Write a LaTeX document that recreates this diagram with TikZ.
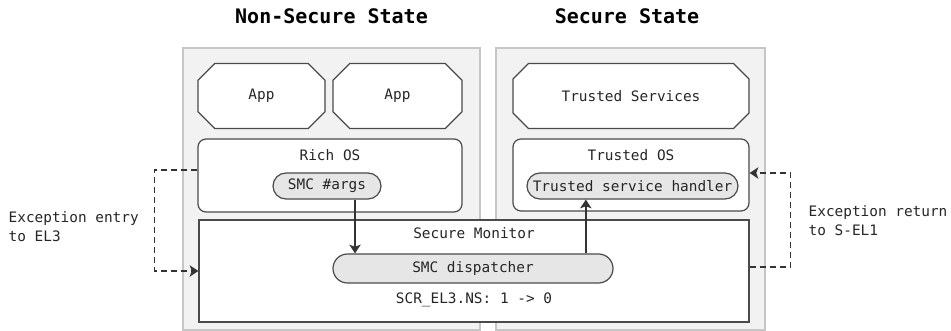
\documentclass[tikz,border=0pt]{standalone}
\usepackage{fontspec}
\setmonofont{DejaVu Sans Mono}
\usetikzlibrary{shapes.misc,arrows.meta}
\definecolor{panelgray}{HTML}{F2F2F2}
\definecolor{panelline}{HTML}{C6C6C6}
\definecolor{boxline}{HTML}{4A4A4A}
\definecolor{pillgray}{HTML}{E6E6E6}
\begin{document}
\begin{tikzpicture}[x=0.75pt,y=-0.75pt,
        font=\ttfamily\fontsize{10.8}{14.3}\selectfont,text=black!85,
        panel/.style={draw=panelline,fill=panelgray,line width=0.9pt,inner sep=0pt,minimum height=211.5pt},
        appbox/.style={chamfered rectangle,chamfered rectangle xsep=7.5pt,chamfered rectangle ysep=7.5pt,
            draw=boxline,fill=white,line width=0.9pt,inner sep=0pt,minimum height=48.75pt},
        osbox/.style={draw=boxline,fill=white,line width=0.9pt,rounded corners=6pt,inner sep=0pt},
        pill/.style={rounded rectangle,draw=boxline,fill=pillgray,line width=0.9pt,inner sep=0pt,minimum height=19.5pt},
        call/.style={draw=black!80,line width=1.3pt,-{Stealth[length=6.5pt,width=8.5pt,inset=1.5pt]}},
        trap/.style={draw=black!80,line width=1.2pt,dash pattern=on 4.5pt off 3pt,-{Stealth[length=6.5pt,width=8.5pt,inset=1.5pt]}}
    ]
    \useasboundingbox (0,0) rectangle (951,331);
    % the two worlds
    \node[panel,minimum width=222.75pt] (nsPanel) at (331.5,189) {};
    \node[panel,minimum width=201.75pt] (sPanel) at (630.5,189) {};
    \node[font=\ttfamily\bfseries\fontsize{15}{18}\selectfont,text=black] (nsTitle) at (331.5,16) {Non-Secure State};
    \node[font=\ttfamily\bfseries\fontsize{15}{18}\selectfont,text=black] (sTitle) at (627,16) {Secure State};
    % user level
    \node[appbox,minimum width=95.25pt] (appA) at (261.5,96) {App};
    \node[appbox,minimum width=96.75pt] (appB) at (397.5,96) {App};
    \node[appbox,minimum width=177pt] (trustedSvc) at (631,96) {Trusted Services};
    % kernels
    \node[osbox,minimum width=198pt,minimum height=54.75pt] (richOS) at (330,175.5) {};
    \node (richLbl) at (330,155) {Rich OS};
    \node[pill,minimum width=81pt] (smcArgs) at (327,186) {SMC \#args};
    \node[osbox,minimum width=177pt,minimum height=54pt] (trustedOS) at (631,175) {};
    \node (trustedLbl) at (631,155) {Trusted OS};
    \node[pill,minimum width=158.25pt] (handler) at (632.5,186) {Trusted service handler};
    % monitor
    \node[draw=boxline,fill=white,line width=0.9pt,inner sep=0pt,minimum width=412.5pt,minimum height=76.5pt] (monitor) at (474,271) {};
    \node (monLbl) at (474,233) {Secure Monitor};
    \node[pill,minimum width=210pt,minimum height=21.75pt] (dispatcher) at (473,268.5) {SMC dispatcher};
    \node (scrLbl) at (474,300) {SCR\_EL3.NS: 1 -> 0};
    % calls
    \draw[call] ([xshift=21pt]smcArgs.south) -- ([xshift=21pt]smcArgs.south |- dispatcher.north);
    \draw[call] ([xshift=-35pt]handler.south |- dispatcher.north) -- ([xshift=-35pt]handler.south);
    % exceptions
    \draw[trap] ([yshift=4pt]richOS.west) -- ++(-43,0) |- (monitor.west);
    \draw[trap] ([yshift=3pt]monitor.east) -- ++(41,0) |- ([yshift=1.5pt]trustedOS.east);
    \node[anchor=west,align=left] (entryLbl) at (4,227) {Exception entry\\to EL3};
    \node[anchor=west,align=left] (returnLbl) at (804,221) {Exception return\\to S-EL1};
\end{tikzpicture}
\end{document}
